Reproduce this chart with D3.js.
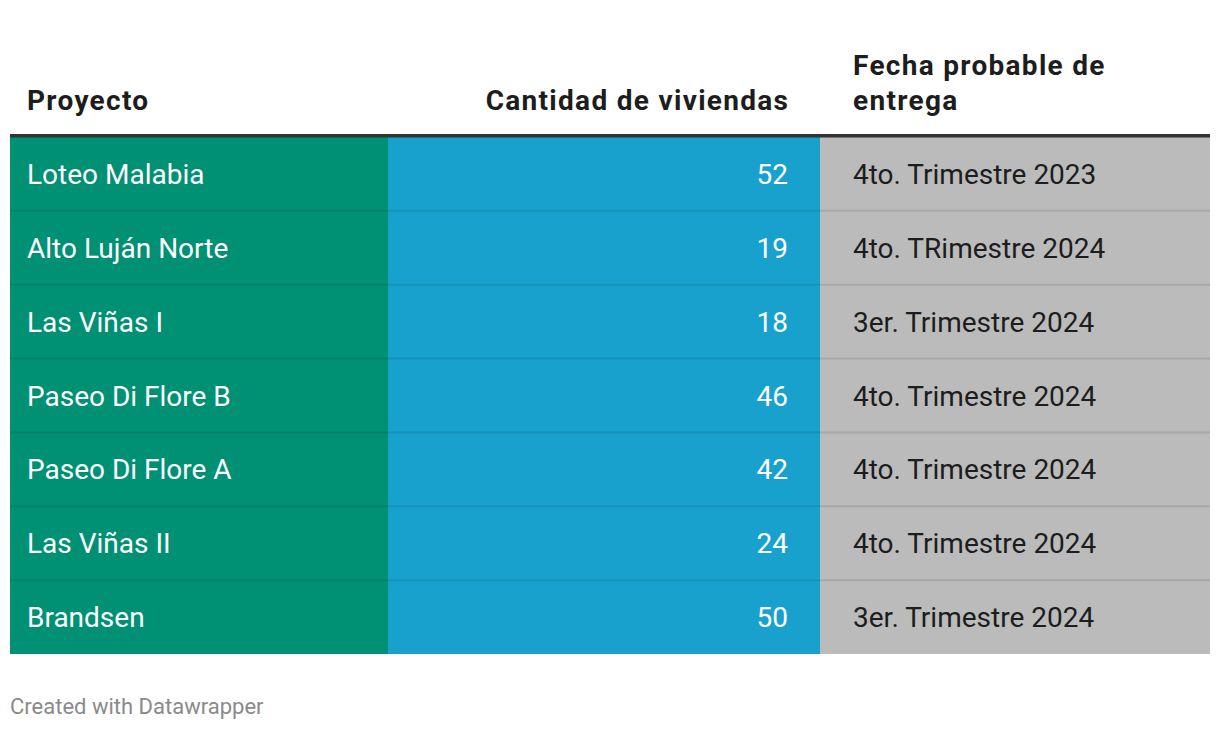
<!DOCTYPE html>
<html><head><meta charset="utf-8">
<script src="https://cdn.jsdelivr.net/npm/d3@7"></script>
<style>
html,body{margin:0;padding:0;background:#fff;}
svg{display:block;font-family:Roboto,"Noto Sans",sans-serif;}
</style></head>
<body>
<svg id="chart" width="1220" height="730"></svg>
<script>
const headers = ["Proyecto", "Cantidad de viviendas", "Fecha probable de entrega"];
const proyectos = ["Loteo Malabia","Alto Luján Norte","Las Viñas I","Paseo Di Flore B","Paseo Di Flore A","Las Viñas II","Brandsen"];
const viviendas = [52, 19, 18, 46, 42, 24, 50];
const fechas = ["4to. Trimestre 2023","4to. TRimestre 2024","3er. Trimestre 2024","4to. Trimestre 2024","4to. Trimestre 2024","4to. Trimestre 2024","3er. Trimestre 2024"];
const footer = "Created with Datawrapper";

(function(){
const svg = d3.select("#chart");
const xL = 10, xR = 1210, yT = 137, yB = 654;
const colEdges = [10, 388, 820, 1210];
const colFill = ["#009073", "#18a1cd", "#bbbbbb"];
const colText = ["#ffffff", "#ffffff", "#1d1d1d"];

const y = d3.scaleBand().domain(d3.range(proyectos.length)).range([yT, yB]).padding(0);
const rows = proyectos.map((p, i) => [p, String(viviendas[i]), fechas[i]]);

colFill.forEach((c, j) => {
  svg.append("rect").attr("x", colEdges[j]).attr("y", yT)
    .attr("width", colEdges[j+1] - colEdges[j]).attr("height", yB - yT)
    .attr("fill", c);
});

svg.selectAll("line.sep").data(d3.range(1, proyectos.length)).join("line")
  .attr("class", "sep")
  .attr("x1", xL).attr("x2", xR)
  .attr("y1", d => y(d)).attr("y2", d => y(d))
  .attr("stroke", "rgba(0,0,0,0.1)").attr("stroke-width", 2);

svg.append("rect").attr("x", xL).attr("y", 134).attr("width", xR - xL).attr("height", 3.5).attr("fill", "#333333");

const hfs = 28, ls = 1.3;
const hdr = (x, yy, anchor) => svg.append("text").attr("x", x).attr("y", yy)
  .attr("text-anchor", anchor).attr("font-size", hfs).attr("font-weight", 700)
  .attr("letter-spacing", ls).attr("fill", "#1d1d1d");
hdr(27, 110, "start").text(headers[0]);
hdr(788 + ls, 110, "end").text(headers[1]);
const h3 = hdr(853, 75, "start");
h3.append("tspan").attr("x", 853).text("Fecha probable de");
h3.append("tspan").attr("x", 853).attr("dy", 35).text("entrega");

const g = svg.selectAll("g.row").data(rows).join("g").attr("class", "row")
  .attr("transform", (d, i) => `translate(0,${y(i) + y.bandwidth()/2 + 10})`);
g.append("text").attr("x", 27).attr("font-size", 28).attr("fill", colText[0]).text(d => d[0]);
g.append("text").attr("x", 788).attr("text-anchor", "end").attr("font-size", 28).attr("fill", colText[1]).text(d => d[1]);
g.append("text").attr("x", 853).attr("font-size", 28).attr("fill", colText[2]).text(d => d[2]);

svg.append("text").attr("x", 10).attr("y", 714).attr("font-size", 22).attr("fill", "#8a8a8a").text(footer);
})();
</script>
</body></html>
